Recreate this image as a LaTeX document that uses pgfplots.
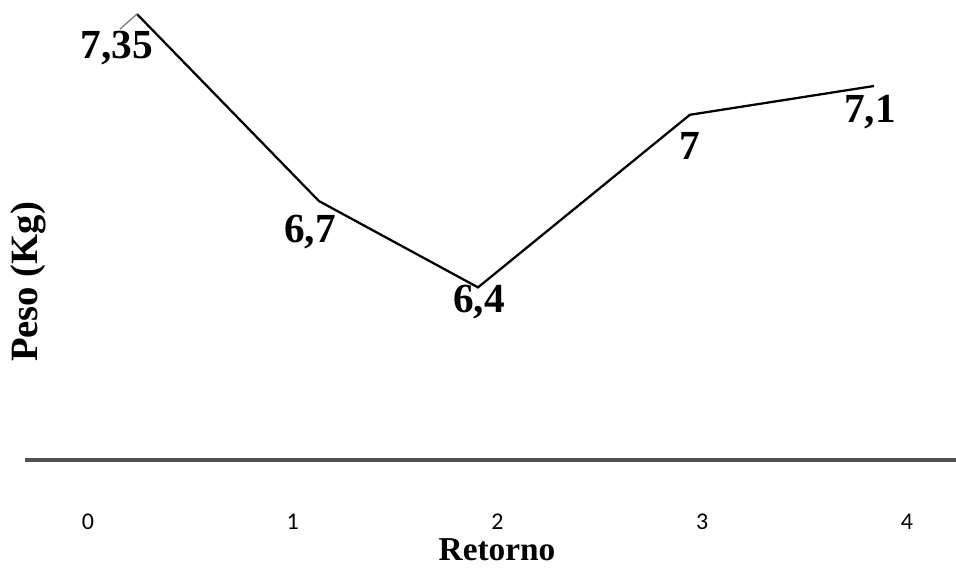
\documentclass[border=0pt]{standalone}
\usepackage{pgfplots}
\pgfplotsset{compat=1.18}
\usepackage{fontspec}
\setmainfont{Liberation Serif}
\newfontfamily\calib{Carlito}
\begin{document}
\begin{tikzpicture}[x=0.75pt,y=0.75pt]
\useasboundingbox (0,0) rectangle (956,570);
\begin{axis}[
  at={(18.75pt,82.5pt)}, anchor=south west,
  scale only axis, width=698.25pt, height=345pt,
  xmin=-0.308, xmax=4.24, ymin=5.8, ymax=7.399,
  axis x line=bottom, axis y line=none,
  x axis line style={line width=3pt, color=black!68, -},
  xtick={0,1,2,3,4}, xticklabels={0,1,2,3,4}, major tick length=0pt,
  xticklabel style={font=\calib\fontsize{18}{20}\selectfont, yshift=-37pt},
  clip=false,
]
\addplot[black, line width=1.7pt] coordinates {(0.239,7.35) (1.128,6.7) (1.905,6.4) (2.940,7.0) (3.839,7.1)};
\addplot[gray, line width=1pt] coordinates {(0.156,7.298) (0.239,7.35)};
\begin{scope}[font=\bfseries\fontsize{31}{34}\selectfont]
\node at (axis cs:0.142,7.232) {7,35};
\node at (axis cs:1.084,6.593) {6,7};
\node at (axis cs:1.909,6.350) {6,4};
\node at (axis cs:2.940,6.892) {7};
\node at (axis cs:3.819,7.010) {7,1};
\end{scope}
\end{axis}
\node[rotate=90, font=\bfseries\fontsize{29}{31}\selectfont] at (28,288) {Peso (Kg)};
\node[font=\bfseries\fontsize{25}{28}\selectfont] at (497,20) {Retorno};
\end{tikzpicture}
\end{document}
